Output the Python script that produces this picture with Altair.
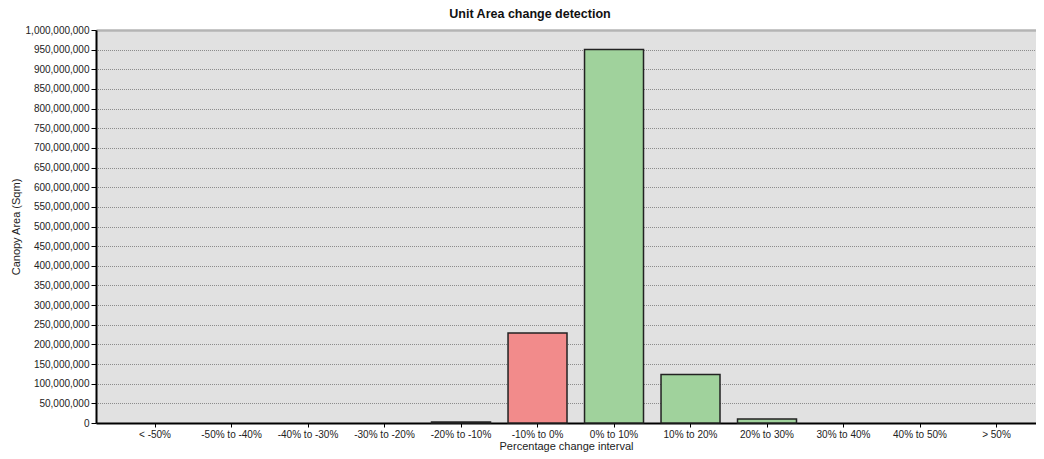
import altair as alt
import pandas as pd

categories = ["< -50%", "-50% to -40%", "-40% to -30%", "-30% to -20%", "-20% to -10%",
              "-10% to 0%", "0% to 10%", "10% to 20%", "20% to 30%", "30% to 40%",
              "40% to 50%", "> 50%"]
values = [0, 0, 0, 0, 2500000, 229000000, 950500000, 123500000, 10000000, 0, 0, 0]
colors = ["#F28B8B"] * 6 + ["#A0D29C"] * 6
y_ticks = [i * 50000000 for i in range(21)]

df = pd.DataFrame({"cat": categories, "val": values, "col": colors})

FONT = "Liberation Sans"
YMAX = 1000000000

x = alt.X("cat:N", sort=categories, title="Percentage change interval",
          scale=alt.Scale(domain=categories, paddingInner=0.229, paddingOuter=0.2585,
                          align=0.747),
          axis=alt.Axis(labelAngle=0, labelFont=FONT, labelFontSize=10, labelColor="#222222",
                        titleFont=FONT, titleFontSize=11, titleFontWeight="normal",
                        titleColor="#222222", tickColor="#000000", tickSize=4,
                        domainColor="#000000", domainWidth=2, labelPadding=2,
                        titlePadding=1, grid=False, labelOverlap=False))
y = alt.Y("val:Q", title="Canopy Area (Sqm)",
          scale=alt.Scale(domain=[0, YMAX], nice=False),
          axis=alt.Axis(values=y_ticks, format=",d", labelOverlap=False,
                        labelFont=FONT, labelFontSize=10, labelColor="#222222",
                        titleFont=FONT, titleFontSize=11, titleFontWeight="normal",
                        titleColor="#222222", tickColor="#000000", tickSize=5,
                        domainColor="#000000", domainWidth=2, labelPadding=2,
                        titlePadding=4, grid=True, gridDashOffset=0.5,
                        gridColor=alt.condition(f"datum.value == {YMAX}",
                                                alt.value("#b4b4b4"), alt.value("#8c8c8c")),
                        gridDash=alt.condition(f"datum.value == {YMAX}",
                                               alt.value([]), alt.value([1, 1])),
                        gridWidth=alt.condition(f"datum.value == {YMAX}",
                                                alt.value(2.5), alt.value(1))))

bars = alt.Chart(df).transform_filter("datum.val > 0").mark_bar(
    stroke="#222222", strokeWidth=1.5
).encode(x=x, y=y, color=alt.Color("col:N", scale=None))

chart = bars.properties(
    width=940, height=393,
    background="white",
    title=alt.TitleParams("Unit Area change detection", font=FONT, fontSize=12.5,
                          fontWeight="bold", color="#111111", dx=-36, offset=5),
    autosize=alt.AutoSizeParams(type="none"),
    padding={"left": 88, "top": 22, "right": 0, "bottom": 30},
).configure_view(fill="#E1E1E1", strokeWidth=0)

chart.save("out.html", embed_options={"renderer": "svg", "actions": False})
